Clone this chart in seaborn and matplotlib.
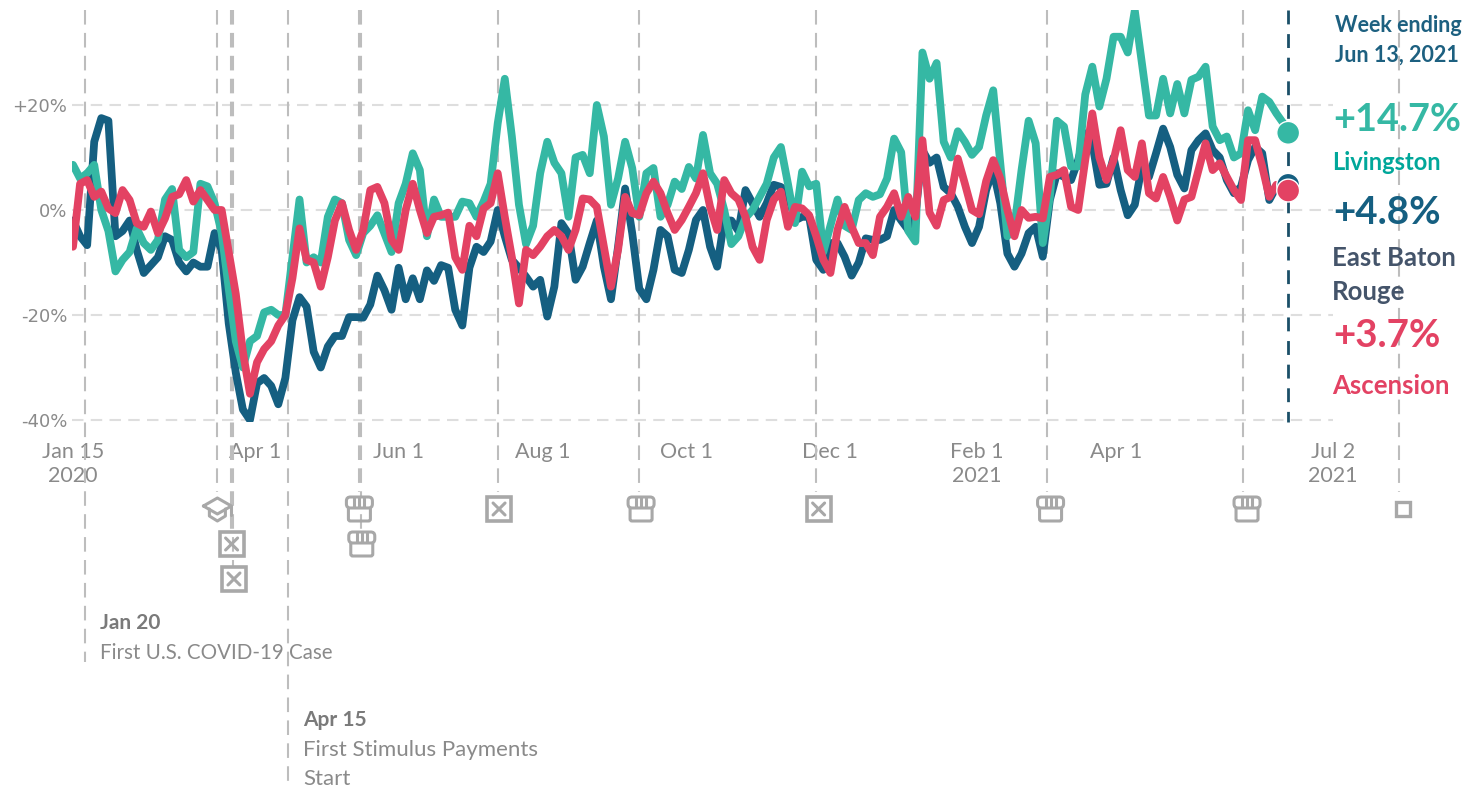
import pandas as pd
import seaborn as sns
import matplotlib.pyplot as plt
from matplotlib.patches import Rectangle, FancyBboxPatch
from matplotlib.transforms import Affine2D

W, H = 1465, 787
X0, PX_DAY = 73.0, 2.367   # pixel of Jan 15 2020, pixels per day
Y0, PX_PCT = 210.0, 5.25   # pixel of 0%, pixels per percent

days = list(range(0, 514, 3)) + [515]

east_baton_rouge = [
    -2, -5, -6.7, 13, 17.5, 17, -5, -4, -2, -7.6,
    -12, -10.5, -9, -5, -5.7, -10, -11.7, -10, -10.8, -10.8,
    -4.4, -7.6, -21.6, -31, -38, -40, -33, -32, -33.5, -37,
    -32, -21, -16.6, -18.4, -27, -30, -26, -24, -24, -20.4,
    -20.4, -20.5, -18, -12.5, -15.3, -19, -11, -17, -13, -17,
    -11.5, -13.5, -10.5, -11, -19, -22, -11, -7, -8, -6,
    0, -5, -9.5, -11, -12.7, -14.6, -13.3, -20.3, -14.6, -2.5,
    -4.5, -13.3, -10.8, -6.3, -2, -10.8, -17, -7, 4.1, -4.4,
    -15, -17, -11.4, -3.8, -5, -11.4, -12, -7.6, -1.9, 0,
    -7, -10.8, -2, -2, -4, 3.8, 1.3, -1.3, 1.3, 4.8,
    4.4, 3.2, -2, -1.3, -1.3, -9.5, -11.4, -6.3, -6.3, -8.9,
    -12.5, -10, -5.4, -5.7, -5.7, -5, 0, -2, -3.8, -1,
    11.4, 9, 10, 4.4, 3.2, 0.6, -3.2, -6.3, -3.2, 3.8,
    7.6, 1.3, -8.3, -10.8, -8.3, -4.4, -3.2, -8.9, 1.9, 7,
    6.3, 5.7, 9.5, 14.6, 12.7, 4.8, 5, 10, 3.8, -1,
    1, 8.3, 6.3, 10.8, 15.5, 12, 6.7, 4.1, 11.4, 13.3,
    14.6, 11.4, 10, 5.7, 3.2, 4.4, 9.5, 12, 10.8, 1.9,
    4.4, 5.4, 4.8,
]
livingston = [
    8.6, 6, 7, 8.6, 0, -4, -11.7, -9.5, -8, -3.5,
    -6.3, -7.6, -5.7, 2, 4, -7.6, -9, -8, 5, 4.5,
    1.3, -4.4, -15, -25, -30, -25, -24, -19.5, -19, -20,
    -20, -9, 2, -10, -9, -10, -1.3, 2, 1.3, -5.7,
    -8.6, -4.4, -3, -1, -4.5, -8, 1.3, 5, 10.8, 7.6,
    -5, 2, -1.3, -1.3, -1.3, 1.6, 1.3, -1.3, 1.6, 5,
    16.5, 25, 14, 1, -6.5, -3, 7, 13, 9, 7,
    -1.3, 10, 10.5, 7, 20, 14, 1, 6, 13, 8,
    -1.3, 7, 8, -1.3, 1, 5.4, 4, 8.2, 6, 14.3,
    7, 5, 0, -6.5, -5, -1.5, 0, 2.5, 5, 10,
    12, 5, -2.5, 7.3, 4.5, 5, -8, -3, 2, -3,
    -3.8, 1.9, 3.2, 2.5, 3, 6, 13.6, 11, -4, -6,
    30, 25, 28, 13, 10, 15, 13, 10.5, 12, 18,
    22.8, 9, -5, -3, 7.6, 17, 12.7, -6.3, 2.5, 17,
    15.9, 8.3, 8.3, 22, 27.3, 19.7, 25, 33, 33, 30,
    38, 28, 18, 18, 25, 18.4, 24, 18.4, 24.8, 25.4,
    27.3, 15.9, 13.3, 14, 10, 10.8, 19, 15.2, 21.6, 20.6,
    18.4, 16.5, 14.7,
]
ascension = [
    -7, 5, 5.7, 2.5, 3.5, 0.3, -0.6, 3.8, 1.9, -2.5,
    -3.2, -0.3, -4.4, -1.6, 2.5, 3, 5.7, 1.6, 3.8, 1.9,
    0, 0, -8, -16, -27, -35, -29, -26.5, -25, -22,
    -20, -13, -3.5, -9.5, -10, -14.6, -9, -2, 1.3, -3.8,
    -7.6, -3.8, 3.8, 4.4, 1.3, -5.7, -7.6, 0, 5, 0,
    -4.4, -1.3, -1, -0.5, -9, -11.4, -3, -5, 0.3, 1.3,
    7, -1.3, -9, -17.8, -7.6, -8.6, -7, -5, -3.8, -5,
    -7.6, -3.8, 2.2, 2, 0.6, -7, -14.6, -7.6, 2.5, -0.6,
    -1, 3.2, 5.4, 3.2, -0.6, -3.8, -1.9, 0.6, 3.2, 7,
    0.6, -3.8, 5.7, 3.2, 2, -1.3, -7, -9.5, -1.9, 2,
    3.5, -3.2, 0.6, 0.3, -1, -5, -9.5, -12, -3.8, 0.6,
    -3.2, -6.3, -6.3, -8.6, -1.3, 0.6, 3.2, -1.3, 2.5, -1.3,
    13.3, -0.5, -3, 1.9, 2.5, 9.8, 5, 0, -0.8, 5.5,
    9.5, 6, 0, -5, 0, -1.5, -1.3, -1.6, 6.3, 6.7,
    7.6, 0.6, 0, 9.5, 18.4, 10, 5.7, 9.5, 15.2, 7.6,
    6.3, 12.7, 3.2, 2.2, 6.3, 2.5, -2, 2, 2.5, 7.6,
    12.7, 7.6, 8.9, 6.3, 3.8, 1.9, 13.3, 13.3, 8.3, 2.5,
    4.8, 3.7, 3.7,
]

y_ticks = [-40, -20, 0, 20]
y_labels = ["-40%", "-20%", "0%", "+20%"]
x_ticks = [0, 77, 138, 199, 260, 321, 383, 442, 534]
x_labels = ["Jan 15\n2020", "Apr 1", "Jun 1", "Aug 1", "Oct 1", "Dec 1", "Feb 1\n2021", "Apr 1", "Jul 2\n2021"]

# event day, pixel where its line stops
event_lines = [(5, 662), (61, 492), (67, 530), (68, 566), (91, 782), (121, 492), (122, 530),
               (180, 492), (240, 492), (315, 492), (413, 492), (496, 492), (562, 492)]
# icon kind, event day, icon row pixel
event_icons = [("cap", 61, 509), ("x", 67, 544), ("x", 68, 579), ("store", 121, 509), ("store", 122, 544),
               ("x", 180, 509), ("store", 240, 509), ("x", 315, 509), ("store", 413, 509),
               ("store", 496, 509), ("square", 562, 509)]

BLUE, TEAL, PINK = "#155F81", "#35B8A4", "#E34263"
GREY = "#8A8A8A"
ICON = "#A8A8A8"

sns.set_theme(style="white")
plt.rcParams["font.family"] = ["Lato", "DejaVu Sans"]
plt.rcParams["lines.solid_capstyle"] = "round"

df = pd.concat([
    pd.DataFrame({"day": days, "value": east_baton_rouge, "county": "East Baton Rouge"}),
    pd.DataFrame({"day": days, "value": livingston, "county": "Livingston"}),
    pd.DataFrame({"day": days, "value": ascension, "county": "Ascension"}),
])
palette = {"East Baton Rouge": BLUE, "Livingston": TEAL, "Ascension": PINK}

fig = plt.figure(figsize=(W / 100, H / 100), dpi=100)
AX_L, AX_R, AX_T, AX_B = 72, 1333, 10, 422
ax = fig.add_axes([AX_L / W, 1 - AX_B / H, (AX_R - AX_L) / W, (AX_B - AX_T) / H])
ax.set_xlim((AX_L - X0) / PX_DAY, (AX_R - X0) / PX_DAY)
ax.set_ylim((Y0 - AX_B) / PX_PCT, (Y0 - AX_T) / PX_PCT)


def val(py):
    return (Y0 - py) / PX_PCT


def label(xp, yp, s, **kw):
    fig.text(xp / W, 1 - yp / H, s, va="center", **kw)


# grid and event lines sit under the data
ax.set_axisbelow(True)
ax.grid(axis="y", color="#DEDEDE", linewidth=1.5, linestyle=(0, (5.5, 3.5)))
for day, stop in event_lines:
    ax.plot([day, day], [val(AX_T), val(stop)], color="#BDBDBD", linewidth=1.5,
            linestyle=(0, (7, 4)), clip_on=False, zorder=1)

sns.lineplot(data=df, x="day", y="value", hue="county", palette=palette,
             hue_order=["East Baton Rouge", "Livingston", "Ascension"],
             linewidth=5.6, legend=False, errorbar=None, estimator=None, sort=False, ax=ax, zorder=3)

ax.plot([days[-1], days[-1]], [val(AX_T), val(AX_B)], color="#1B4F68", linewidth=2,
        linestyle=(0, (5, 3.5)), zorder=2, clip_on=False)

ends = df[df["day"] == days[-1]]
sns.scatterplot(data=ends, x="day", y="value", hue="county", palette=palette,
                hue_order=["East Baton Rouge", "Livingston", "Ascension"],
                s=270, edgecolor="white", linewidth=1, legend=False, ax=ax, zorder=4, clip_on=False)

ax.set_xticks(x_ticks)
ax.set_xticklabels(x_labels, fontsize=15.5, color=GREY, linespacing=1.25)
ax.set_yticks(y_ticks)
ax.set_yticklabels(y_labels, fontsize=13, color=GREY, family="DejaVu Sans")
ax.tick_params(axis="x", length=0, pad=14.5)
ax.tick_params(axis="y", length=0, pad=3.5)
ax.set_xlabel("")
ax.set_ylabel("")
sns.despine(ax=ax, left=True, bottom=True)


def draw_icon(kind, day, py):
    cx = X0 + PX_DAY * day
    tr = Affine2D().translate(cx, H - py)
    style = dict(color=ICON, linewidth=2.2, transform=tr, clip_on=False, zorder=5, solid_capstyle="round")
    if kind == "x":
        fig.add_artist(Rectangle((-12, -12), 24, 24, fill=False, edgecolor=ICON, linewidth=2.6, transform=tr))
        fig.add_artist(plt.Line2D([-6, 6], [-6, 6], **style))
        fig.add_artist(plt.Line2D([-6, 6], [6, -6], **style))
    elif kind == "square":
        fig.add_artist(Rectangle((-7, -7), 14, 14, fill=False, edgecolor=ICON, linewidth=2.4, transform=tr))
    elif kind == "store":
        fig.add_artist(FancyBboxPatch((-11, -12), 22, 14, boxstyle="round,pad=0,rounding_size=2", fill=False,
                                      edgecolor=ICON, linewidth=2.2, transform=tr))
        fig.add_artist(FancyBboxPatch((-13, 1), 26, 11, boxstyle="round,pad=0,rounding_size=4", facecolor="white",
                                      edgecolor=ICON, linewidth=2.2, transform=tr))
        for dx in (-5, 0, 5):
            fig.add_artist(plt.Line2D([dx, dx], [2, 11], **style))
    elif kind == "cap":
        fig.add_artist(plt.Line2D([-14, 0, 14, 0, -14], [3, 11, 3, -5, 3], **style))
        fig.add_artist(plt.Line2D([-8, -8, 0, 8, 8], [0, -7, -12, -7, 0], **style))
        fig.add_artist(plt.Line2D([14, 14], [3, -6], **style))


for kind, day, py in event_icons:
    draw_icon(kind, day, py)

label(100, 623, "Jan 20", fontsize=15, fontweight="bold", color="#7A7A7A")
label(100, 653, "First U.S. COVID-19 Case", fontsize=14.8, color=GREY)
label(303, 720, "Apr 15", fontsize=15, fontweight="bold", color="#7A7A7A")
label(303, 750, "First Stimulus Payments", fontsize=16, color=GREY)
label(303, 779, "Start", fontsize=16, color=GREY)

label(1398, 26, "Week ending", fontsize=15.5, fontweight="bold", color="#1D6080", ha="center")
label(1397, 55, "Jun 13, 2021", fontsize=15.5, fontweight="bold", color="#1D6080", ha="center")
label(1333, 120, "+14.7%", fontsize=27.3, fontweight="bold", color=TEAL)
label(1332, 163, "Livingston", fontsize=17, fontweight="bold", color="#00A79A")
label(1333, 213, "+4.8%", fontsize=27.7, fontweight="bold", color=BLUE)
label(1332, 258, "East Baton", fontsize=18.5, fontweight="bold", color="#44546A")
label(1332, 292, "Rouge", fontsize=18.5, fontweight="bold", color="#44546A")
label(1333, 336, "+3.7%", fontsize=27.7, fontweight="bold", color=PINK)
label(1332, 386, "Ascension", fontsize=18.5, fontweight="bold", color=PINK)

plt.savefig("out.png", dpi=100)
